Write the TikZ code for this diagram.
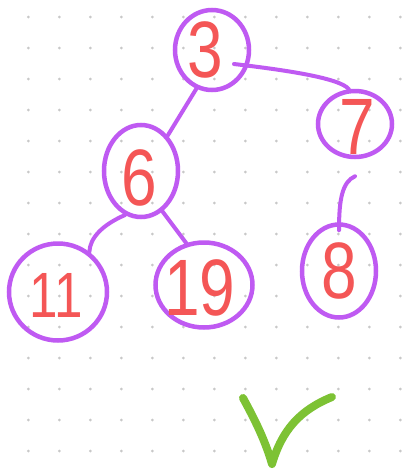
\documentclass[tikz,border=0pt]{standalone}
\usepackage{fontspec}
\setmainfont{Liberation Sans}
\usetikzlibrary{shapes.geometric,calc}
\definecolor{purp}{HTML}{BF5AF2}
\definecolor{rednum}{HTML}{F45656}
\definecolor{chk}{HTML}{7DC234}
\definecolor{dotc}{HTML}{C8C8C8}
\newcommand{\digs}[1]{\scalebox{0.8}[1]{#1}}
\tikzset{
  ring/.style={draw=purp, line width=4.5pt, ellipse, inner sep=0pt},
  num/.style={text=rednum, font=\fontsize{80}{80}\selectfont, inner sep=0pt},
  link/.style={draw=purp, line width=4pt, line cap=round},
}
\begin{document}
\begin{tikzpicture}[x=1pt,y=-1pt]
\useasboundingbox (0,0) rectangle (402,472);
\fill[white] (0,0) rectangle (402,472);
\foreach \i in {0,...,12}{\foreach \j in {0,...,14}{
  \fill[dotc] (28.3+31*\i,17+31*\j) circle (1.5pt);}}
% rings
\node[ring, minimum width=74pt, minimum height=80pt] (n3) at (212,50) {};
\node[ring, minimum width=74pt, minimum height=66pt] (n7) at (355,124) {};
\node[ring, minimum width=74pt, minimum height=92pt] (n6) at (141,171) {};
\node[ring, minimum width=98pt, minimum height=97pt] (n11) at (58,292) {};
\node[ring, minimum width=97pt, minimum height=85pt] (n19) at (204,285) {};
\node[ring, minimum width=74pt, minimum height=93pt] (n8) at (339,271) {};
% numbers
\node[num] (t3) at (205,50) {\digs{3}};
\node[num] (t7) at (357,127) {\digs{7}};
\node[num] (t6) at (139,178) {\digs{6}};
\node[num, font=\fontsize{64}{64}\selectfont] (t11) at (56,295) {\digs{11}};
\node[num] (t19) at (200,288) {\digs{19}};
\node[num] (t8) at (339,271) {\digs{8}};
% connectors
\coordinate (c37) at (234,64);
\draw[link] (n3.248) -- (n6.53);
\draw[link] (c37) .. controls (285,70) and (340,78) .. (n7.100);
\draw[link] (n6.250) .. controls (102,225) and (90,238) .. (n11.52);
\draw[link] (n6.-62) -- (n19.113);
\draw[link] ([yshift=-17pt]n7.south) .. controls (342,182) and (339,200) .. ([yshift=-8pt]n8.north);
% check mark
\coordinate (k1) at (243,398);
\coordinate (k2) at (272,464);
\coordinate (k3) at (332,397);
\draw[chk, line width=8pt, line cap=round, line join=round]
  (k1) .. controls (255,420) and (265,440) .. (k2) .. controls (282,430) and (300,410) .. (k3);
\end{tikzpicture}
\end{document}
